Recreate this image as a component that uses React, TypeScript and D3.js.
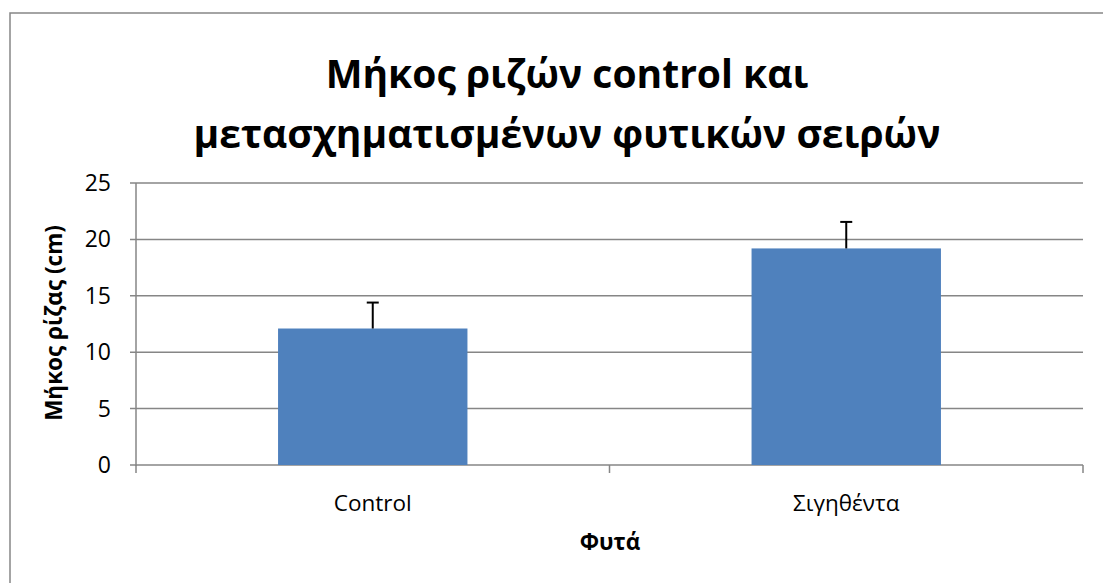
import React from "react";
import * as d3 from "d3";

const categories = ["Control", "Σιγηθέντα"];
const values = [12.1, 19.2];
const errors = [2.3, 2.35];
const yTicks = [0, 5, 10, 15, 20, 25];
const titleLines = ["Μήκος ριζών control και", "μετασχηματισμένων φυτικών σειρών"];
const xTitle = "Φυτά";
const yTitle = "Μήκος ρίζας (cm)";

const W = 1103;
const H = 583;
const M = { left: 136, right: 1083, top: 183, bottom: 465 };
const FONT = "'Open Sans', 'Noto Sans', sans-serif";

export default function App() {
  const x = d3.scaleBand<string>().domain(categories).range([M.left, M.right]).padding(0);
  const y = d3.scaleLinear().domain([0, 25]).range([M.bottom, M.top]);
  const bw = x.bandwidth() * 0.4;
  const grid = "#868686";
  return (
    <svg width={W} height={H} style={{ position: "absolute", left: 0, top: 0, background: "#fff" }} fontFamily={FONT}>
      <rect x={10} y={13} width={W + 20} height={H + 20} fill="#fff" stroke="#868686" strokeWidth={1.5} />
      <text textAnchor="middle" fontWeight="bold" fontSize={39} fill="#000">
        <tspan x={567} y={88}>{titleLines[0]}</tspan>
        <tspan x={567} y={148}>{titleLines[1]}</tspan>
      </text>
      {yTicks.map((t) => (
        <g key={t}>
          <line x1={M.left - 6} x2={M.right} y1={y(t)} y2={y(t)} stroke={grid} strokeWidth={1.5} />
          <text x={111} y={y(t)} dy="0.35em" textAnchor="end" fontSize={23} fill="#000">{t}</text>
        </g>
      ))}
      <line x1={M.left} x2={M.left} y1={M.top} y2={M.bottom + 1} stroke={grid} strokeWidth={1.5} />
      {[M.left, ...categories.map((c) => (x(c) as number) + x.bandwidth())].map((px, i) => (
        <line key={i} x1={px} x2={px} y1={M.bottom} y2={M.bottom + 8} stroke={grid} strokeWidth={1.5} />
      ))}
      {categories.map((c, i) => {
        const cx = (x(c) as number) + x.bandwidth() / 2;
        return (
          <g key={c}>
            <rect x={cx - bw / 2} y={y(values[i])} width={bw} height={y(0) - y(values[i])} fill="#4F81BD" />
            <line x1={cx} x2={cx} y1={y(values[i])} y2={y(values[i] + errors[i])} stroke="#000" strokeWidth={2} />
            <line x1={cx - 6} x2={cx + 6} y1={y(values[i] + errors[i])} y2={y(values[i] + errors[i])} stroke="#000" strokeWidth={2} />
            <text x={cx} y={511} textAnchor="middle" fontSize={22.5} fill="#000">{c}</text>
          </g>
        );
      })}
      <text x={610} y={550} textAnchor="middle" fontWeight="bold" fontSize={22.5} fill="#000">{xTitle}</text>
      <text transform={`translate(62,323) rotate(-90)`} textAnchor="middle" fontWeight="bold" fontSize={22.5} fill="#000">{yTitle}</text>
    </svg>
  );
}
